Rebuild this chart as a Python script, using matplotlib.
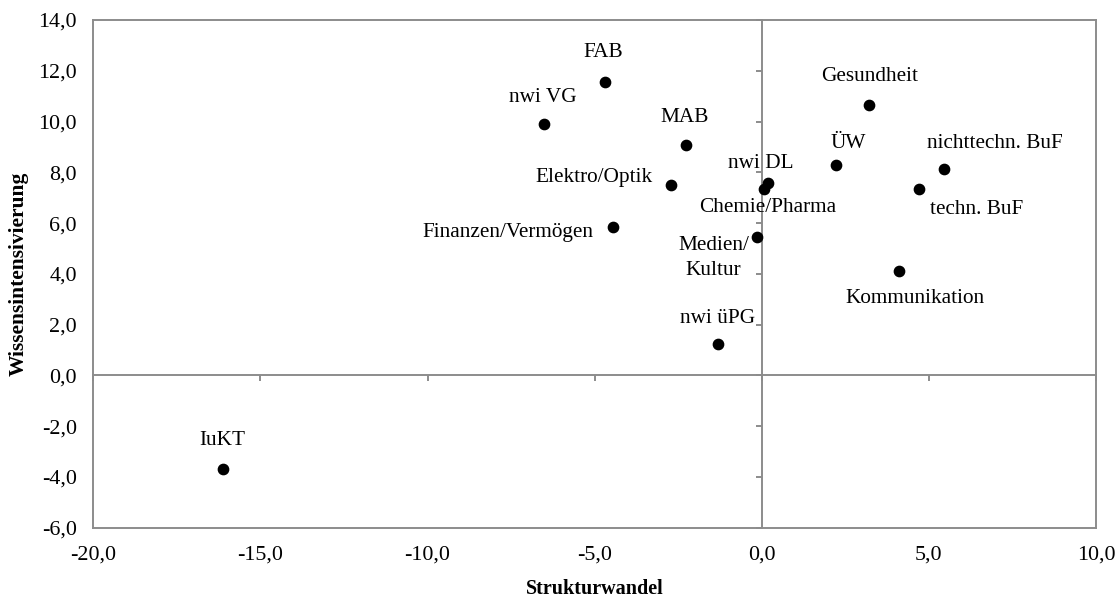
import matplotlib.pyplot as plt
from matplotlib.ticker import FuncFormatter

plt.rcParams['font.family'] = ['Liberation Serif', 'DejaVu Serif']

# sectors: Strukturwandel (x), Wissensintensivierung (y)
labels = ["FAB", "nwi VG", "MAB", "Elektro/Optik", "Finanzen/Vermögen",
          "nwi DL", "Chemie/Pharma", "Medien/\nKultur", "nwi üPG",
          "Gesundheit", "ÜW", "nichttechn. BuF", "techn. BuF",
          "Kommunikation", "IuKT"]
x_vals = [-4.68, -6.51, -2.27, -2.72, -4.46, 0.20, 0.06, -0.13, -1.30,
          3.22, 2.21, 5.46, 4.70, 4.11, -16.13]
y_vals = [11.57, 9.89, 9.07, 7.50, 5.86, 7.57, 7.33, 5.46, 1.22,
          10.65, 8.27, 8.13, 7.33, 4.11, -3.70]

# label offsets in pixels and alignment
offsets = [(-2, 29), (-1, 27), (-1, 28), (-18, 7), (-19, -6),
           (-8, 20), (4, -18), (-44, -21), (-1, 26),
           (0, 29), (13, 22), (51, 26), (58, -20), (16, -27), (0, 29)]
aligns = ["center", "center", "center", "right", "right",
          "center", "center", "center", "center",
          "center", "center", "center", "center", "center", "center"]

gray = "#8c8c8c"
fs = 15.3

fig = plt.figure(figsize=(11.19, 5.97), dpi=100)
pos = [0.0834, 0.1161, 0.896, 0.8504]

# outer frame with tick labels
frame = fig.add_axes(pos)
frame.set_xlim(-20, 10)
frame.set_ylim(-6, 14)
frame.set_xticks(range(-20, 11, 5))
frame.set_yticks(range(-6, 15, 2))
comma = FuncFormatter(lambda v, p: ("%.1f" % v).replace(".", ","))
frame.xaxis.set_major_formatter(comma)
frame.yaxis.set_major_formatter(comma)
frame.tick_params(length=0, labelsize=15.8)
frame.tick_params(axis='x', pad=13)
frame.tick_params(axis='y', pad=12)
for s in frame.spines.values():
    s.set_color(gray)
    s.set_linewidth(1.4)
frame.set_xlabel("Strukturwandel", fontsize=14.5, fontweight='bold', labelpad=10)
frame.set_ylabel("Wissensintensivierung", fontsize=15.5, fontweight='bold', labelpad=7)

# inner axes crossing at zero
ax = fig.add_axes(pos, facecolor='none')
ax.set_xlim(-20, 10)
ax.set_ylim(-6, 14)
ax.set_xticks(range(-20, 11, 5))
ax.set_yticks(range(-6, 15, 2))
ax.spines['top'].set_visible(False)
ax.spines['right'].set_visible(False)
ax.spines['left'].set_position(('data', 0))
ax.spines['bottom'].set_position(('data', 0))
for s in ('left', 'bottom'):
    ax.spines[s].set_color(gray)
    ax.spines[s].set_linewidth(1.4)
ax.tick_params(direction='out', length=4, width=1.4, color=gray,
               labelbottom=False, labelleft=False)

ax.scatter(x_vals, y_vals, s=55, color='black', zorder=3, clip_on=False)
for lab, x, y, off, ha in zip(labels, x_vals, y_vals, offsets, aligns):
    ax.annotate(lab, (x, y), xytext=off, textcoords='offset pixels',
                ha=ha, va='center', fontsize=fs, multialignment='center',
                linespacing=1.4)

fig.savefig("out.png", dpi=100)
